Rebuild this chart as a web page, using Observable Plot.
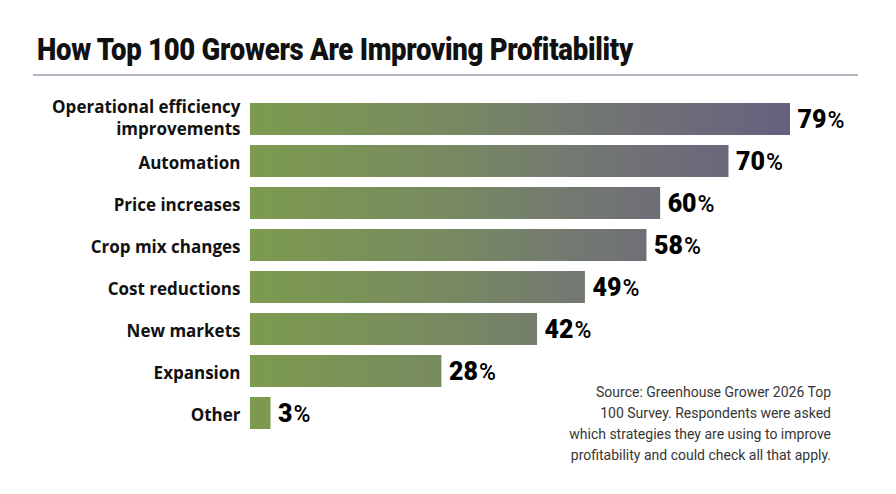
<!DOCTYPE html>
<html>
<head>
<meta charset="utf-8">
<script src="https://cdn.jsdelivr.net/npm/d3@7"></script>
<script src="https://cdn.jsdelivr.net/npm/@observablehq/plot@0.6"></script>
<style>
  html, body { margin: 0; padding: 0; background: #fff; }
  #wrap { position: relative; width: 896px; height: 494px; overflow: hidden; background: #fff; }
  #title { position: absolute; left: 37px; top: 33px; font-family: Roboto, sans-serif; font-weight: 900;
           font-size: 32px; line-height: 32px; color: #111; white-space: nowrap; transform-origin: 0 0; letter-spacing: -0.3px; }
  #rule { position: absolute; left: 33px; top: 74px; width: 825px; height: 2px; background: #b9b1c1; }
  #chart { position: absolute; left: 0; top: 88px; }
  #source { position: absolute; right: 65px; top: 382px; font-family: Roboto, sans-serif; font-weight: 400;
            font-size: 14px; line-height: 21px; color: #363636; text-align: right; }
</style>
</head>
<body>
<div id="wrap">
  <div id="title">How Top 100 Growers Are Improving Profitability</div>
  <div id="rule"></div>
  <div id="chart"></div>
  <div id="source">Source: Greenhouse Grower 2026 Top<br>100 Survey. Respondents were asked<br>which strategies they are using to improve<br>profitability and could check all that apply.</div>
</div>
<script>
const categories = [
  "Operational efficiency\nimprovements",
  "Automation",
  "Price increases",
  "Crop mix changes",
  "Cost reductions",
  "New markets",
  "Expansion",
  "Other"
];
const values = [79, 70, 60, 58, 49, 42, 28, 3];
const data = categories.map((c, i) => ({label: c, value: values[i]}));

const chart = Plot.plot({
  width: 896,
  height: 406,
  marginLeft: 250,
  marginRight: 106,
  marginTop: 13,
  marginBottom: 63.5,
  x: {domain: [0, d3.max(values)], axis: null},
  y: {domain: categories, paddingInner: 0.25, paddingOuter: 0, label: null},
  style: {fontFamily: "'Open Sans', sans-serif", background: "transparent", color: "#111", overflow: "visible"},
  marks: [
    Plot.barX(data, {x: "value", y: "label", fill: "url(#barGradient)"}),
    Plot.text(data, {
      x: "value", y: "label", text: d => String(d.value),
      textAnchor: "start", dx: 7, fontSize: 25, fontWeight: 900,
      fontFamily: "Roboto, sans-serif", fill: "#000", ariaLabel: "values"
    }),
    Plot.axisY({tickSize: 0, tickPadding: 10, fontSize: 17, fontWeight: 700, lineHeight: 1.3, label: null})
  ]
});

document.getElementById("chart").appendChild(chart);

// gradient spanning the x scale
const xs = chart.scale("x");
const svg = d3.select(chart);
const grad = svg.insert("defs", ":first-child")
  .append("linearGradient")
  .attr("id", "barGradient")
  .attr("gradientUnits", "userSpaceOnUse")
  .attr("x1", xs.apply(0)).attr("x2", xs.apply(d3.max(values)))
  .attr("y1", 0).attr("y2", 0);
grad.append("stop").attr("offset", "0%").attr("stop-color", "#7c9b4e");
grad.append("stop").attr("offset", "35%").attr("stop-color", "#788b60");
grad.append("stop").attr("offset", "65%").attr("stop-color", "#727574");
grad.append("stop").attr("offset", "100%").attr("stop-color", "#67607f");

// larger % sign after each value, lighter weight
const valueTexts = svg.selectAll("text").filter(function() {
  const g = this.closest("g");
  return g && (g.getAttribute("font-size") === "25" || g.getAttribute("aria-label") === "values");
});
valueTexts.append("tspan").style("font-size", "23px").style("font-weight", "500").attr("dx", 1).text("%");

// nudge two-line tick label up slightly
svg.selectAll("text").filter(function() { return this.querySelectorAll("tspan").length === 2; })
  .each(function() {
    const tr = this.getAttribute("transform") || "";
    this.setAttribute("transform", tr + " translate(0,-3)");
  });

// fit title width
const t = document.getElementById("title");
const w = t.getBoundingClientRect().width;
t.style.transform = `scaleX(${596 / w})`;
</script>
</body>
</html>
